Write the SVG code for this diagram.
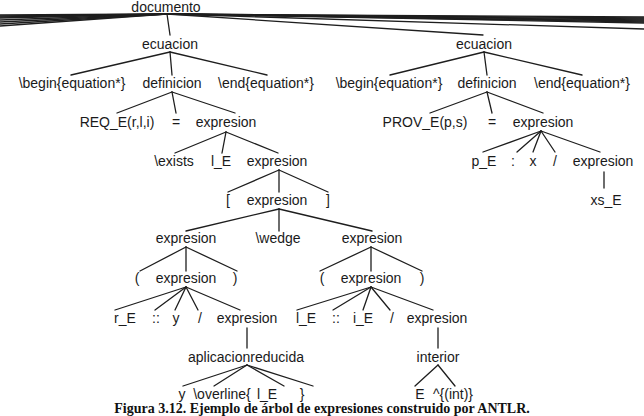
<svg xmlns="http://www.w3.org/2000/svg" width="644" height="416" viewBox="0 0 644 416">
<style>
.t{font-family:"Liberation Sans",Arial,Helvetica,sans-serif;font-size:14px;fill:#1a1a1a;text-anchor:middle}
.c{font-family:"Liberation Serif","Times New Roman",serif;font-size:14px;font-weight:bold;fill:#111;text-anchor:middle}
.e line{stroke:#1e1e1e;stroke-width:1.3;stroke-linecap:round}
</style>
<rect width="644" height="416" fill="#fff"/>
<g id="connectors" class="e">
<line x1="167" y1="14" x2="0" y2="15"/>
<line x1="167" y1="14" x2="0" y2="16"/>
<line x1="167" y1="14" x2="0" y2="17"/>
<line x1="167" y1="14" x2="0" y2="18"/>
<line x1="167" y1="14" x2="0" y2="20"/>
<line x1="167" y1="14" x2="0" y2="22"/>
<line x1="167" y1="14" x2="0" y2="24"/>
<line x1="167" y1="14" x2="0" y2="26"/>
<line x1="167" y1="14" x2="644" y2="17"/>
<line x1="167" y1="14" x2="644" y2="18"/>
<line x1="167" y1="14" x2="644" y2="19"/>
<line x1="167" y1="14" x2="644" y2="20"/>
<line x1="167" y1="14" x2="644" y2="21"/>
<line x1="167" y1="14" x2="644" y2="22"/>
<line x1="167" y1="14" x2="644" y2="23"/>
<line x1="167" y1="14" x2="644" y2="29"/>
<line x1="167" y1="14" x2="170" y2="35"/>
<line x1="167" y1="14" x2="483" y2="35"/>
<line x1="170" y1="52" x2="71" y2="75"/>
<line x1="170" y1="52" x2="172" y2="75"/>
<line x1="170" y1="52" x2="267" y2="75"/>
<line x1="484" y1="52" x2="390" y2="75"/>
<line x1="484" y1="52" x2="487" y2="75"/>
<line x1="484" y1="52" x2="582" y2="75"/>
<line x1="172" y1="92" x2="117" y2="113"/>
<line x1="172" y1="92" x2="176" y2="113"/>
<line x1="172" y1="92" x2="235" y2="113"/>
<line x1="487" y1="92" x2="430" y2="113"/>
<line x1="487" y1="92" x2="492" y2="113"/>
<line x1="487" y1="92" x2="543" y2="113"/>
<line x1="226" y1="132" x2="175" y2="153"/>
<line x1="226" y1="132" x2="222" y2="153"/>
<line x1="226" y1="132" x2="278" y2="153"/>
<line x1="279" y1="170" x2="228" y2="192"/>
<line x1="279" y1="170" x2="279" y2="192"/>
<line x1="279" y1="170" x2="328" y2="192"/>
<line x1="279" y1="209" x2="186" y2="231"/>
<line x1="279" y1="209" x2="279" y2="231"/>
<line x1="279" y1="209" x2="372" y2="231"/>
<line x1="186" y1="247" x2="140" y2="271"/>
<line x1="186" y1="247" x2="186" y2="271"/>
<line x1="186" y1="247" x2="237" y2="271"/>
<line x1="371" y1="247" x2="320" y2="271"/>
<line x1="371" y1="247" x2="371" y2="271"/>
<line x1="371" y1="247" x2="422" y2="271"/>
<line x1="186" y1="287" x2="115" y2="310"/>
<line x1="186" y1="287" x2="155" y2="310"/>
<line x1="186" y1="287" x2="175" y2="310"/>
<line x1="186" y1="287" x2="198" y2="310"/>
<line x1="186" y1="287" x2="240" y2="310"/>
<line x1="371" y1="287" x2="297" y2="310"/>
<line x1="371" y1="287" x2="333" y2="310"/>
<line x1="371" y1="287" x2="363" y2="310"/>
<line x1="371" y1="287" x2="390" y2="310"/>
<line x1="371" y1="287" x2="433" y2="310"/>
<line x1="247" y1="328" x2="247" y2="348"/>
<line x1="438" y1="328" x2="438" y2="348"/>
<line x1="247" y1="365" x2="183" y2="386"/>
<line x1="247" y1="365" x2="214" y2="386"/>
<line x1="247" y1="365" x2="284" y2="386"/>
<line x1="247" y1="365" x2="313" y2="386"/>
<line x1="438" y1="365" x2="415" y2="386"/>
<line x1="438" y1="365" x2="455" y2="386"/>
<line x1="541" y1="131" x2="483" y2="152"/>
<line x1="541" y1="131" x2="517" y2="152"/>
<line x1="541" y1="131" x2="533" y2="152"/>
<line x1="541" y1="131" x2="555" y2="152"/>
<line x1="541" y1="131" x2="600" y2="152"/>
<line x1="604" y1="172" x2="604" y2="188"/>
</g>
<g id="documento"><text class="t" x="166" y="12">documento</text></g>
<g id="ecuacion1"><text class="t" x="170" y="49">ecuacion</text></g>
<g id="begin1"><text class="t" x="72" y="88">\begin{equation*}</text></g>
<g id="definicion1"><text class="t" x="172" y="88">definicion</text></g>
<g id="end1"><text class="t" x="266" y="88">\end{equation*}</text></g>
<g id="req"><text class="t" x="117" y="127">REQ_E(r,l,i)</text></g>
<g id="eq1"><text class="t" x="176" y="127">=</text></g>
<g id="exprA"><text class="t" x="226" y="127">expresion</text></g>
<g id="exists"><text class="t" x="174" y="166">\exists</text></g>
<g id="lE1"><text class="t" x="221" y="166">l_E</text></g>
<g id="exprB"><text class="t" x="277" y="166">expresion</text></g>
<g id="lbracket"><text class="t" x="228" y="205">[</text></g>
<g id="exprC"><text class="t" x="277" y="205">expresion</text></g>
<g id="rbracket"><text class="t" x="328" y="205">]</text></g>
<g id="exprD"><text class="t" x="186" y="243">expresion</text></g>
<g id="wedge"><text class="t" x="278" y="243">\wedge</text></g>
<g id="exprE"><text class="t" x="372" y="243">expresion</text></g>
<g id="lparen1"><text class="t" x="137" y="283">(</text></g>
<g id="exprF"><text class="t" x="186" y="283">expresion</text></g>
<g id="rparen1"><text class="t" x="235" y="283">)</text></g>
<g id="lparen2"><text class="t" x="322" y="283">(</text></g>
<g id="exprH"><text class="t" x="371" y="283">expresion</text></g>
<g id="rparen2"><text class="t" x="422" y="283">)</text></g>
<g id="rE"><text class="t" x="125" y="323">r_E</text></g>
<g id="dcolon1"><text class="t" x="156" y="323">::</text></g>
<g id="y1"><text class="t" x="176" y="323">y</text></g>
<g id="slash1"><text class="t" x="200" y="323">/</text></g>
<g id="exprG"><text class="t" x="247" y="323">expresion</text></g>
<g id="lE2"><text class="t" x="306" y="323">l_E</text></g>
<g id="dcolon2"><text class="t" x="336" y="323">::</text></g>
<g id="iE"><text class="t" x="363" y="323">i_E</text></g>
<g id="slash2"><text class="t" x="392" y="323">/</text></g>
<g id="exprI"><text class="t" x="437" y="323">expresion</text></g>
<g id="aplic"><text class="t" x="246" y="362">aplicacionreducida</text></g>
<g id="interior"><text class="t" x="438" y="362">interior</text></g>
<g id="y2"><text class="t" x="182" y="399">y</text></g>
<g id="overline"><text class="t" x="222" y="399">\overline{</text></g>
<g id="lE3"><text class="t" x="267" y="399">l_E</text></g>
<g id="rbrace"><text class="t" x="302" y="399">}</text></g>
<g id="E"><text class="t" x="420" y="399">E</text></g>
<g id="intpow"><text class="t" x="453" y="399">^{(int)}</text></g>
<g id="ecuacion2"><text class="t" x="484" y="49">ecuacion</text></g>
<g id="begin2"><text class="t" x="389" y="88">\begin{equation*}</text></g>
<g id="definicion2"><text class="t" x="487" y="88">definicion</text></g>
<g id="end2"><text class="t" x="582" y="88">\end{equation*}</text></g>
<g id="prov"><text class="t" x="425" y="127">PROV_E(p,s)</text></g>
<g id="eq2"><text class="t" x="492" y="127">=</text></g>
<g id="exprJ"><text class="t" x="543" y="127">expresion</text></g>
<g id="pE"><text class="t" x="484" y="166">p_E</text></g>
<g id="colon"><text class="t" x="513" y="166">:</text></g>
<g id="x"><text class="t" x="533" y="166">x</text></g>
<g id="slash3"><text class="t" x="555" y="166">/</text></g>
<g id="exprK"><text class="t" x="603" y="166">expresion</text></g>
<g id="xsE"><text class="t" x="606" y="205">xs_E</text></g>
<g id="caption"><text class="c" x="322" y="413">Figura 3.12. Ejemplo de árbol de expresiones construido por ANTLR.</text></g>
</svg>
